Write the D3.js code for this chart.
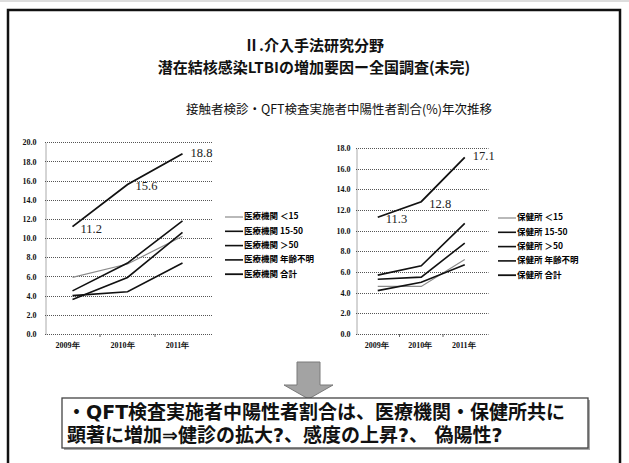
<!DOCTYPE html>
<html>
<head>
<meta charset="utf-8">
<script src="https://cdn.jsdelivr.net/npm/d3@7"></script>
<style>
    body { margin: 0; background: #fff; }
    svg { display: block; font-family: "Noto Sans CJK JP", sans-serif; }
</style>
</head>
<body>
<div id="container"></div>
<script>
// data
var YEARS = ['2009年', '2010年', '2011年'];

var HOSP_NAMES = ['医療機関 ＜15', '医療機関 15-50', '医療機関 ＞50', '医療機関 年齢不明', '医療機関 合計'];
var HOSP_LT15 = [5.9, 7.3, 10.2];
var HOSP_15_50 = [4.5, 7.4, 11.8];
var HOSP_GT50 = [3.6, 5.9, 10.6];
var HOSP_UNKNOWN = [4.0, 4.4, 7.4];
var HOSP_TOTAL = [11.2, 15.6, 18.8];

var HC_NAMES = ['保健所 ＜15', '保健所 15-50', '保健所 ＞50', '保健所 年齢不明', '保健所 合計'];
var HC_LT15 = [4.6, 4.6, 7.2];
var HC_15_50 = [5.7, 6.6, 10.7];
var HC_GT50 = [5.3, 5.5, 8.8];
var HC_UNKNOWN = [4.2, 5.0, 6.7];
var HC_TOTAL = [11.3, 12.8, 17.1];

var TITLE_LINES = ['Ⅱ.介入手法研究分野', '潜在結核感染LTBIの増加要因ー全国調査(未完)'];
var SUBTITLE = '接触者検診・QFT検査実施者中陽性者割合(%)年次推移';
var NOTE_LINES = ['・QFT検査実施者中陽性者割合は、医療機関・保健所共に', '顕著に増加⇒健診の拡大?、感度の上昇?、 偽陽性?'];

var WIDTH = 629, HEIGHT = 463;
var LINE_COLORS = ['#8a8a8a', '#111', '#111', '#111', '#111'];
var LINE_WIDTHS = [1.2, 1.6, 1.6, 1.6, 1.8];

var svg = d3.select('#container').append('svg')
    .attr('width', WIDTH).attr('height', HEIGHT);

// slide frame
svg.append('line').attr('x1', 0).attr('x2', WIDTH).attr('y1', 1).attr('y2', 1)
    .attr('stroke', '#bbb').attr('stroke-width', 1);
svg.append('rect').attr('x', 8).attr('y', 10).attr('width', 612).attr('height', 470)
    .attr('fill', 'none').attr('stroke', '#111').attr('stroke-width', 2.5);

// titles (one text block, two lines)
var title = svg.append('text').attr('text-anchor', 'middle')
    .attr('font-size', 15).attr('font-weight', 'bold').attr('fill', '#111');
title.selectAll('tspan').data(TITLE_LINES).enter().append('tspan')
    .attr('x', 314).attr('y', function(d, i) { return 51 + i * 22; })
    .text(function(d) { return d; });
svg.append('text').attr('x', 339).attr('y', 114).attr('text-anchor', 'middle')
    .attr('font-size', 12.5).attr('fill', '#111').text(SUBTITLE);

function drawChart(opts) {
    var g = svg.append('g');
    var x = d3.scaleBand().domain(YEARS).range([opts.left, opts.right]);
    var y = d3.scaleLinear().domain([0, opts.max]).range([334, opts.top]);
    var ticks = d3.range(0, opts.max + 0.1, 2);

    // dotted gridlines
    g.selectAll('line.grid').data(ticks).enter().append('line')
        .attr('class', 'grid')
        .attr('x1', opts.left).attr('x2', opts.right + 2)
        .attr('y1', function(d) { return Math.round(y(d)) + 0.5; })
        .attr('y2', function(d) { return Math.round(y(d)) + 0.5; })
        .attr('stroke', '#555').attr('stroke-width', 1).attr('stroke-dasharray', '1,1');

    var yAxis = g.append('g')
        .attr('transform', 'translate(' + (opts.left + 0.5) + ',0)')
        .call(d3.axisLeft(y).tickValues(ticks).tickFormat(d3.format('.1f')).tickSize(0).tickPadding(opts.pad));
    yAxis.select('.domain').attr('stroke', '#555').attr('stroke-dasharray', '1,1');
    yAxis.selectAll('text').attr('font-family', '"Liberation Serif", serif')
        .attr('font-weight', 'bold').attr('font-size', 8).attr('fill', '#111');

    var xAxis = g.append('g')
        .attr('transform', 'translate(0,334.5)')
        .call(d3.axisBottom(x).tickSize(0).tickPadding(8));
    xAxis.select('.domain').remove();
    xAxis.selectAll('text').attr('font-family', '"Liberation Serif", serif')
        .attr('font-weight', 'bold').attr('font-size', 8).attr('fill', '#111')
        .attr('dx', opts.labelShift);

    // small category separators on the axis
    g.selectAll('line.sep').data(YEARS.slice(1)).enter().append('line')
        .attr('class', 'sep')
        .attr('x1', function(d) { return x(d); }).attr('x2', function(d) { return x(d); })
        .attr('y1', 334).attr('y2', 337).attr('stroke', '#666');

    var line = d3.line()
        .x(function(d, i) { return x(YEARS[i]) + x.bandwidth() / 2; })
        .y(function(d) { return y(d); });

    g.selectAll('path.series').data(opts.series).enter().append('path')
        .attr('class', 'series')
        .attr('d', line)
        .attr('fill', 'none')
        .attr('stroke', function(d, i) { return LINE_COLORS[i]; })
        .attr('stroke-width', function(d, i) { return LINE_WIDTHS[i]; });

    // value labels on the total line
    var total = opts.series[opts.series.length - 1];
    g.selectAll('text.val').data(total).enter().append('text')
        .attr('class', 'val')
        .attr('x', function(d, i) { return x(YEARS[i]) + x.bandwidth() / 2 + 8; })
        .attr('y', function(d, i) { return y(d) + (i === 2 ? 0 : 3); })
        .attr('dominant-baseline', 'middle')
        .attr('font-family', '"Liberation Serif", serif')
        .attr('font-size', 12.5).attr('fill', '#222')
        .text(function(d) { return d.toFixed(1); });

    // legend
    var leg = g.selectAll('g.leg').data(opts.names).enter().append('g')
        .attr('class', 'leg')
        .attr('transform', function(d, i) { return 'translate(' + opts.legX + ',' + (opts.legY + i * 14.3) + ')'; });
    leg.append('line').attr('x1', 0).attr('x2', 18).attr('y1', 0).attr('y2', 0)
        .attr('stroke', function(d, i) { return LINE_COLORS[i]; })
        .attr('stroke-width', function(d, i) { return LINE_WIDTHS[i]; });
    leg.append('text').attr('x', 19).attr('y', 0).attr('dominant-baseline', 'middle')
        .attr('font-size', 8.5).attr('font-weight', 'bold').attr('fill', '#000')
        .text(function(d) { return d; });
}

drawChart({
    left: 45, right: 210, top: 142.3, max: 20, pad: 9, labelShift: -5,
    series: [HOSP_LT15, HOSP_15_50, HOSP_GT50, HOSP_UNKNOWN, HOSP_TOTAL],
    names: HOSP_NAMES, legX: 225, legY: 217
});
drawChart({
    left: 356, right: 486.5, top: 148, max: 18, pad: 6, labelShift: -1,
    series: [HC_LT15, HC_15_50, HC_GT50, HC_UNKNOWN, HC_TOTAL],
    names: HC_NAMES, legX: 498, legY: 218
});

// down arrow
svg.append('path')
    .attr('d', 'M297,362 L320,362 L320,385 L333,385 L308.5,399 L284,385 L297,385 Z')
    .attr('fill', '#a3a3a3').attr('stroke', '#7a7a7a').attr('stroke-width', 1);

// conclusion box
svg.append('rect').attr('x', 64).attr('y', 400).attr('width', 526).attr('height', 50)
    .attr('fill', '#aaa');
svg.append('rect').attr('x', 62).attr('y', 398).attr('width', 526).attr('height', 50)
    .attr('fill', '#fff').attr('stroke', '#444').attr('stroke-width', 1.3);
var note = svg.append('text')
    .attr('font-family', '"DejaVu Sans", "Noto Sans CJK JP", sans-serif')
    .attr('font-size', 19).attr('font-weight', 'bold').attr('fill', '#111');
note.selectAll('tspan').data(NOTE_LINES).enter().append('tspan')
    .attr('x', 67).attr('y', function(d, i) { return 419 + i * 23; })
    .text(function(d) { return d; });
</script>
</body>
</html>
